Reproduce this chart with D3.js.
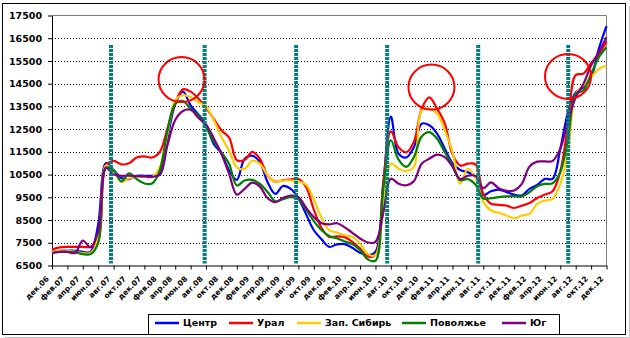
<!DOCTYPE html>
<html>
<head>
<meta charset="utf-8">
<script src="https://cdn.jsdelivr.net/npm/d3@7"></script>
<style>
  body { margin: 0; background: #fff; }
  svg { display: block; }
  text { font-family: "DejaVu Sans", Verdana, sans-serif; font-weight: bold; fill: #000; }
</style>
</head>
<body>
<svg id="chart" width="630" height="338"></svg>
<script>
// Monthly categories, Dec 2006 – Dec 2012
const months = [
  "дек.06",
  "янв.07","фев.07","мар.07","апр.07","май.07","июн.07","июл.07","авг.07","сен.07","окт.07","ноя.07","дек.07",
  "янв.08","фев.08","мар.08","апр.08","май.08","июн.08","июл.08","авг.08","сен.08","окт.08","ноя.08","дек.08",
  "янв.09","фев.09","мар.09","апр.09","май.09","июн.09","июл.09","авг.09","сен.09","окт.09","ноя.09","дек.09",
  "янв.10","фев.10","мар.10","апр.10","май.10","июн.10","июл.10","авг.10","сен.10","окт.10","ноя.10","дек.10",
  "янв.11","фев.11","мар.11","апр.11","май.11","июн.11","июл.11","авг.11","сен.11","окт.11","ноя.11","дек.11",
  "янв.12","фев.12","мар.12","апр.12","май.12","июн.12","июл.12","авг.12","сен.12","окт.12","ноя.12","дек.12"
];

// Axis labels shown every second month
const xTickLabels = [
  "дек.06","фев.07","апр.07","июн.07","авг.07","окт.07","дек.07",
  "фев.08","апр.08","июн.08","авг.08","окт.08","дек.08",
  "фев.09","апр.09","июн.09","авг.09","окт.09","дек.09",
  "фев.10","апр.10","июн.10","авг.10","окт.10","дек.10",
  "фев.11","апр.11","июн.11","авг.11","окт.11","дек.11",
  "фев.12","апр.12","июн.12","авг.12","окт.12","дек.12"
];

const yTicks = [6500, 7500, 8500, 9500, 10500, 11500, 12500, 13500, 14500, 15500, 16500, 17500];

const centr = [
  7100, 7150, 7150, 7150, 7100, 7100, 8300, 11000, 10700, 10350,
  10300, 10450, 10450, 10450, 10500, 12100, 13600, 14150, 13550, 13150,
  12700, 11850, 11430, 10680, 10270, 11190, 11330, 11040, 10160, 9650,
  10000, 9870, 9450, 8750, 8050, 7650, 7320, 7430, 7440, 7280,
  7060, 6960, 7100, 10000, 13050, 11420, 11250, 11710, 12740, 12670,
  12300, 11640, 11000, 10700, 10600, 10400, 9600, 9770, 9840, 9730,
  9620, 9580, 9870, 10050, 10310, 10310, 11630, 13240, 14120, 14340,
  14780, 16030, 17030
];
const ural = [
  7200, 7300, 7320, 7320, 7320, 7320, 7600, 10900, 11100, 10950,
  11000, 11250, 11300, 11250, 11500, 12550, 13650, 14250, 14150, 13850,
  13450, 12950, 12450, 12130, 11140, 11140, 11500, 11190, 10460, 10190,
  10250, 10280, 10300, 9950, 8950, 8150, 7760, 7780, 7750, 7540,
  7250, 6900, 6960, 10100, 12400, 11700, 11480, 11950, 13400, 13900,
  13400, 12750, 11400, 10900, 10980, 10950, 9650, 9220, 9170, 9140,
  9030, 9130, 9250, 9470, 9620, 9770, 10640, 12700, 14880, 14940,
  15400, 15800, 16350
];
const sibir = [
  7100, 7150, 7150, 7100, 7050, 7050, 7700, 10900, 10690, 10180,
  10330, 10400, 10400, 10400, 10840, 12300, 13770, 13990, 13910, 13690,
  13500, 12900, 12150, 11550, 10820, 10750, 11110, 10970, 10460, 10190,
  10240, 10240, 10210, 10050, 9400, 8600, 8050, 7950, 7830, 7760,
  7470, 7000, 6960, 8930, 10980, 10760, 10660, 10840, 13330, 13400,
  13190, 12460, 11510, 10100, 10750, 10350, 9300, 8920, 8820, 8700,
  8580, 8700, 8770, 9210, 9360, 9430, 10090, 11490, 14050, 14420,
  14780, 15150, 15300
];
const volga = [
  7050, 7100, 7100, 7080, 7000, 7000, 7500, 10800, 10690, 10200,
  10550, 10300, 10110, 10110, 10690, 12450, 13620, 13740, 13400, 13100,
  12600, 11950, 11480, 10970, 10020, 10240, 10270, 10090, 9730, 9320,
  9420, 9510, 9430, 8950, 8450, 8050, 7800, 7700, 7560, 7440,
  7180, 6770, 6710, 9810, 12010, 11160, 10840, 11280, 12180, 12370,
  12080, 11490, 10900, 10250, 10300, 10050, 9450, 9460, 9510, 9540,
  9550, 9540, 9730, 9990, 10090, 10120, 10610, 12070, 14050, 14200,
  14930, 15660, 16100
];
const yug = [
  7050, 7100, 7100, 7050, 7600, 7300, 8000, 10800, 10500, 10450,
  10450, 10430, 10420, 10400, 10500, 11800, 12900, 13300, 13350, 13000,
  12700, 12100, 11410, 10530, 9620, 9870, 10150, 9970, 9460, 9290,
  9480, 9580, 9510, 9040, 8630, 8360, 8310, 8360, 8180, 7940,
  7690, 7510, 7540, 8790, 10320, 10100, 10030, 10220, 10980, 11200,
  11380, 11270, 10850, 10300, 10450, 10440, 9900, 10160, 9900, 9790,
  9800, 10090, 10850, 11070, 11080, 11100, 11640, 12850, 13900, 14490,
  15300, 15880, 16540
];

const seriesNames = ["Центр", "Урал", "Зап. Сибирь", "Поволжье", "Юг"];
const seriesColors = ["#0000FF", "#FF0000", "#FFCC00", "#008000", "#800080"];
const seriesValues = [centr, ural, sibir, volga, yug];

// Annual reference lines (position in months from Dec 2006) and highlighted peaks
const markerMonths = [7.66, 19.82, 31.70, 43.52, 55.34, 67.03];
const markerTop = 16200;
const highlightMonths = [16.82, 49.27, 67.0];
const highlightValues = [14680, 14350, 14820];

const svg = d3.select("#chart");
const W = 630, H = 338;
const plot = { left: 52, right: 606.5, top: 15.5, bottom: 265.5 };

const x = d3.scaleLinear().domain([0, months.length - 1]).range([plot.left, plot.right]);
const y = d3.scaleLinear().domain([6500, 17500]).range([plot.bottom, plot.top]);

// chart frame and shadow
svg.append("line").attr("x1", 5).attr("x2", 629.5).attr("y1", 337.5).attr("y2", 337.5).attr("stroke", "#c0c0c0");
svg.append("line").attr("x1", 629.5).attr("x2", 629.5).attr("y1", 6).attr("y2", 337.5).attr("stroke", "#c0c0c0");
svg.append("rect").attr("x", 2.5).attr("y", 3.5).attr("width", 623).attr("height", 331)
  .attr("fill", "#fff").attr("stroke", "#000");

// dotted grid
svg.append("g").selectAll("line")
  .data(yTicks.slice(1, -1))
  .join("line")
  .attr("x1", plot.left).attr("x2", plot.right)
  .attr("y1", d => Math.round(y(d)) + 0.5).attr("y2", d => Math.round(y(d)) + 0.5)
  .attr("stroke", "#000").attr("stroke-dasharray", "1,2");

// plot area border (top / right)
svg.append("path")
  .attr("d", `M${plot.left},${plot.top}H${plot.right}V${plot.bottom}`)
  .attr("fill", "none").attr("stroke", "#808080");

// y axis
const yAxis = svg.append("g")
  .attr("transform", `translate(${plot.left},0)`)
  .call(d3.axisLeft(y).tickValues(yTicks).tickSize(4).tickSizeOuter(0).tickPadding(6).tickFormat(d3.format("d")));
yAxis.selectAll("text").style("font-size", "9.5px").attr("fill", "#000");
yAxis.selectAll("line").attr("stroke", "#000");
yAxis.select(".domain").attr("stroke", "#000");

// x axis
const evenIdx = xTickLabels.map((_, i) => i * 2);
const xAxis = svg.append("g")
  .attr("transform", `translate(0,${plot.bottom})`)
  .call(d3.axisBottom(x).tickValues(evenIdx).tickSize(4).tickSizeOuter(0).tickFormat(d => xTickLabels[d / 2]));
xAxis.select(".domain").attr("stroke", "#000");
xAxis.selectAll("line").attr("stroke", "#000");
xAxis.selectAll("text")
  .style("font-size", "7.5px")
  .attr("text-anchor", "end")
  .attr("x", 0).attr("y", 0).attr("dy", "0.35em")
  .attr("transform", "translate(-5,12) rotate(-45)");

// series lines
const line = d3.line()
  .x((d, i) => x(i))
  .y(d => y(d))
  .curve(d3.curveCatmullRom.alpha(0.5));

svg.append("g").selectAll("path")
  .data(seriesValues)
  .join("path")
  .attr("d", d => line(d))
  .attr("fill", "none")
  .attr("stroke", (d, i) => seriesColors[i])
  .attr("stroke-width", 2.2)
  .attr("stroke-linejoin", "round");

// annual dashed markers
svg.append("g").selectAll("line")
  .data(markerMonths)
  .join("line")
  .attr("x1", d => x(d)).attr("x2", d => x(d))
  .attr("y1", y(markerTop)).attr("y2", plot.bottom - 2)
  .attr("stroke", "#008080").attr("stroke-width", 4).attr("stroke-dasharray", "3,1");

// highlighted peaks
svg.append("g").selectAll("ellipse")
  .data(highlightMonths)
  .join("ellipse")
  .attr("cx", d => x(d))
  .attr("cy", (d, i) => y(highlightValues[i]))
  .attr("rx", 23).attr("ry", 22.5)
  .attr("fill", "none").attr("stroke", "#FF0000").attr("stroke-width", 2);

// legend
const legendX = [155, 229, 297, 402, 502];
svg.append("rect").attr("x", 148.5).attr("y", 314.5).attr("width", 411).attr("height", 20)
  .attr("fill", "#fff").attr("stroke", "#000");
const lg = svg.append("g").selectAll("g")
  .data(seriesNames)
  .join("g")
  .attr("transform", (d, i) => `translate(${legendX[i]},323)`);
lg.append("line").attr("x1", 0).attr("x2", 24).attr("y1", 0).attr("y2", 0)
  .attr("stroke", (d, i) => seriesColors[i]).attr("stroke-width", 2.5);
lg.append("text").attr("x", 28).attr("y", 0).attr("dy", "0.36em")
  .style("font-size", "9.5px").text(d => d);
</script>
</body>
</html>
